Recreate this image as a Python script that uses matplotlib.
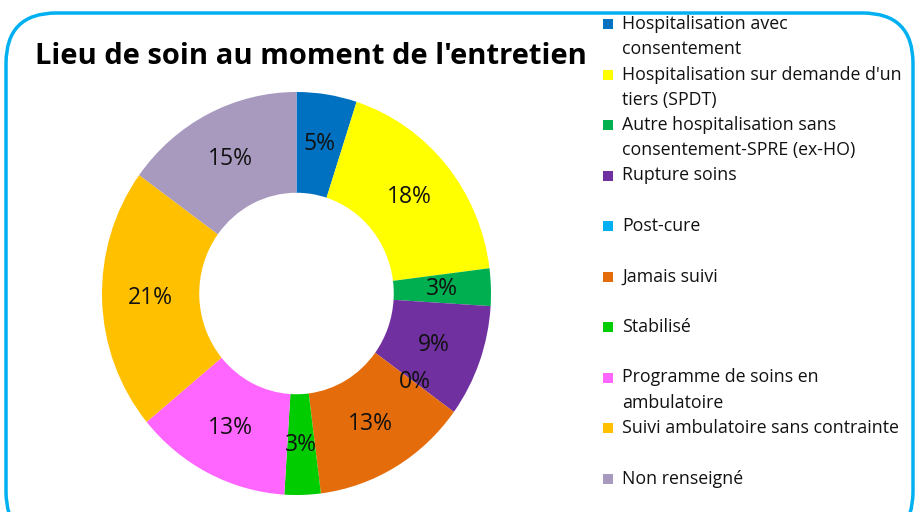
import matplotlib
matplotlib.use("Agg")
import matplotlib.pyplot as plt
from matplotlib.patches import FancyBboxPatch, Rectangle

# data
labels = [
    "Hospitalisation avec\nconsentement",
    "Hospitalisation sur demande d'un\ntiers (SPDT)",
    "Autre hospitalisation sans\nconsentement-SPRE (ex-HO)",
    "Rupture soins",
    "Post-cure",
    "Jamais suivi",
    "Stabilisé",
    "Programme de soins en\nambulatoire",
    "Suivi ambulatoire sans contrainte",
    "Non renseigné",
]
values = [5, 18, 3, 9, 0, 13, 3, 13, 21, 15]
colors = ["#0070C0", "#FFFF00", "#00B050", "#7030A0", "#00B0F0",
          "#E46C0A", "#00CC00", "#FF66FF", "#FFC000", "#A89ABF"]
title = "Lieu de soin au moment de l'entretien"

plt.rcParams["font.family"] = ["Open Sans", "DejaVu Sans"]

W, H = 917, 512
fig = plt.figure(figsize=(W / 100, H / 100), dpi=100)

# rounded light-blue frame (bottom runs off the image)
frame = FancyBboxPatch((6 / W, -30 / H), 907 / W, 529 / H,
                       boxstyle="round,pad=0,rounding_size=0.055",
                       transform=fig.transFigure, fill=False,
                       edgecolor="#00B0F0", linewidth=2.5, mutation_aspect=W / H)
fig.patches.append(frame)

fig.text(35 / W, 1 - 56 / H, title, fontsize=21, fontweight="bold",
         va="center", ha="left", color="black")

# donut, slightly taller than wide as in the original
cx, cy, rx, ry = 296.5, 293.5, 194.5, 201.5
ax = fig.add_axes([(cx - rx) / W, (H - cy - ry) / H, 2 * rx / W, 2 * ry / H])
ax.pie(values, colors=colors, startangle=90, counterclock=False,
       wedgeprops=dict(width=0.5, linewidth=0),
       autopct=lambda p: f"{p:.0f}%", pctdistance=0.75,
       textprops=dict(fontsize=16.5, color="#111111"))
ax.set_aspect("auto")
ax.set_xlim(-1, 1)
ax.set_ylim(-1, 1)
ax.axis("off")

# legend, drawn by hand to keep Excel's spacing
y0, step, line_h = 24, 50.5, 25.5
for i, (lab, col) in enumerate(zip(labels, colors)):
    y = y0 + i * step
    fig.patches.append(Rectangle((603 / W, 1 - (y + 5) / H), 10 / W, 10 / H,
                                 transform=fig.transFigure, facecolor=col,
                                 edgecolor="none"))
    for k, line in enumerate(lab.split("\n")):
        fig.text(622 / W, 1 - (y + k * line_h) / H, line, fontsize=12.8,
                 va="center", ha="left", color="#111111")

fig.savefig("out.png", dpi=100)
